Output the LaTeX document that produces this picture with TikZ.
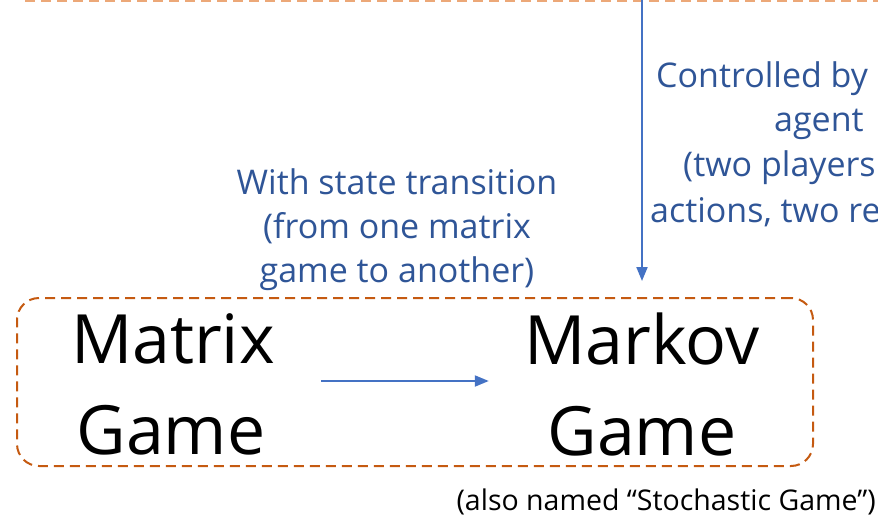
\documentclass[tikz,border=0pt]{standalone}
\usepackage{fontspec}
\setmainfont{Open Sans}
\usetikzlibrary{arrows.meta}
\definecolor{boxorange}{RGB}{197,90,17}
\definecolor{lightorange}{RGB}{236,168,120}
\definecolor{arrowblue}{RGB}{68,114,196}
\definecolor{textblue}{RGB}{47,85,151}
\tikzset{
  conn/.style={draw=arrowblue, line width=2pt, -{Triangle[length=14pt,width=11pt]}},
  bluetxt/.style={text=textblue, font=\fontsize{34}{44}\selectfont, inner sep=0pt},
  bigtxt/.style={text=black, font=\fontsize{68}{91}\selectfont, inner sep=0pt, align=center},
  dashbox/.style={draw=boxorange, line width=2pt, dash pattern=on 10pt off 6pt, rounded corners=22pt}
}
\begin{document}
\begin{tikzpicture}[x=1pt, y=-1pt]
\useasboundingbox (0,0) rectangle (878,522);
\clip (0,0) rectangle (878,522);
% upper (cut-off) box edge
\draw[draw=lightorange, line width=2pt, dash pattern=on 10pt off 6pt] (25,1) -- (900,1);
\coordinate (top) at (642,-5);
% main dashed box
\node[dashbox, minimum width=796pt, minimum height=168pt, inner sep=0pt] (box) at (415,382) {};
% game nodes
\node[bigtxt, text width=200pt] (matrix) at (171,384) {Matrix\\Game};
\node[bigtxt, text width=240pt] (markov) at (642,384) {Markov\\Game};
% arrows
\draw[conn, shorten <=50pt, shorten >=33pt] (matrix.east |- 0,381) -- (markov.west |- 0,381);
\draw[conn, shorten >=16pt] (top) -- (top |- box.north);
% labels
\node[bluetxt, align=center] (trans) at (397,230) {With state transition\\(from one matrix\\game to another)};
\node[bluetxt, anchor=west] (c1) at (656,79) {Controlled by};
\node[bluetxt, anchor=west] (c2) at (774,124) {agent};
\node[bluetxt, anchor=west] (c3) at (683,168) {(two players};
\node[bluetxt, anchor=west] (c4) at (650,212) {actions, two re};
\node[text=black, font=\fontsize{28.5}{36}\selectfont, inner sep=0pt, anchor=east] (also) at (876,502) {(also named “Stochastic Game”)};
\end{tikzpicture}
\end{document}
